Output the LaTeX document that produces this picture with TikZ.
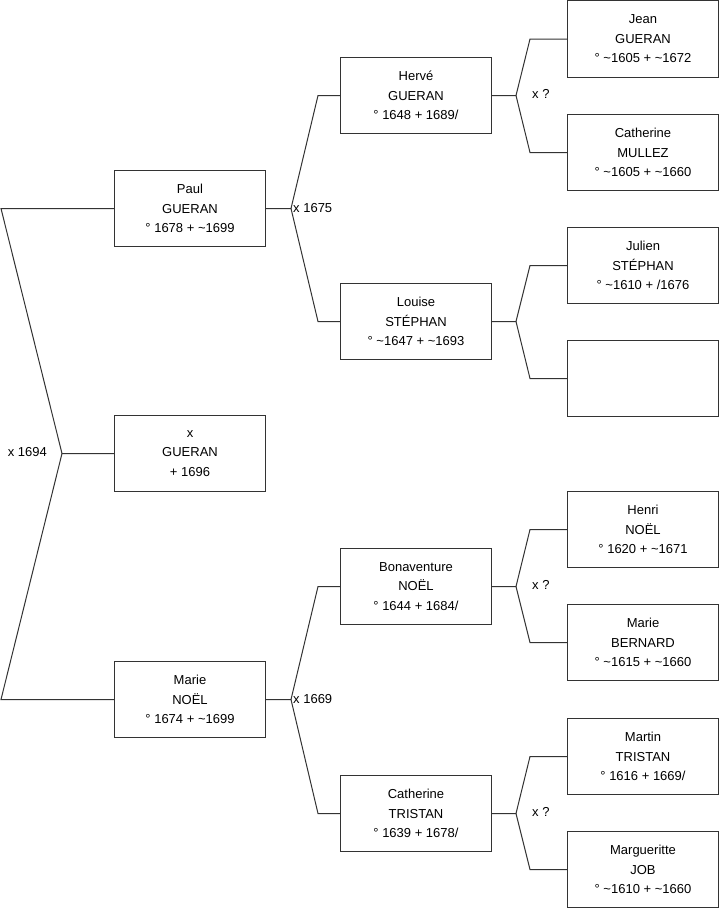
\documentclass[tikz,border=0pt]{standalone}
\usepackage{fontspec}
\setmainfont{Liberation Sans}
\begin{document}
\begin{tikzpicture}[x=1bp,y=-1bp,
  person/.style={draw=black!80, line width=1bp, minimum width=151bp, minimum height=76bp,
    align=center, inner sep=0pt, anchor=north west, font=\fontsize{13bp}{19.5bp}\selectfont},
  link/.style={draw=black!80, line width=1bp},
  lbl/.style={inner sep=0pt, font=\fontsize{13bp}{15bp}\selectfont}]
\useasboundingbox (0,0) rectangle (719,908);
% column 1
\node[person] (paul)  at (114,170) {Paul\\GUERAN\\° 1678 + \textasciitilde1699};
\node[person] (xg)    at (114,415) {x\\GUERAN\\+ 1696};
\node[person] (marie) at (114,661) {Marie\\NOËL\\° 1674 + \textasciitilde1699};
% column 2
\node[person] (herve)  at (340,57)  {Hervé\\GUERAN\\° 1648 + 1689/};
\node[person] (louise) at (340,283) {Louise\\STÉPHAN\\° \textasciitilde1647 + \textasciitilde1693};
\node[person] (bona)   at (340,548) {Bonaventure\\NOËL\\° 1644 + 1684/};
\node[person] (cathT)  at (340,775) {Catherine\\TRISTAN\\° 1639 + 1678/};
% column 3
\node[person] (jean)    at (567,0.5) {Jean\\GUERAN\\° \textasciitilde1605 + \textasciitilde1672};
\node[person] (cathM)   at (567,114) {Catherine\\MULLEZ\\° \textasciitilde1605 + \textasciitilde1660};
\node[person] (julien)  at (567,227) {Julien\\STÉPHAN\\° \textasciitilde1610 + /1676};
\node[person] (empty)   at (567,340) {};
\node[person] (henri)   at (567,491) {Henri\\NOËL\\° 1620 + \textasciitilde1671};
\node[person] (marieB)  at (567,604) {Marie\\BERNARD\\° \textasciitilde1615 + \textasciitilde1660};
\node[person] (martin)  at (567,718) {Martin\\TRISTAN\\° 1616 + 1669/};
\node[person] (margu)   at (567,831) {Margueritte\\JOB\\° \textasciitilde1610 + \textasciitilde1660};
% junctions
\coordinate (j0) at ([xshift=-52bp]xg.west);
\coordinate (j1) at ([xshift=25bp]paul.east);
\coordinate (j2) at ([xshift=25bp]marie.east);
\coordinate (jH) at ([xshift=24bp]herve.east);
\coordinate (jL) at ([xshift=24bp]louise.east);
\coordinate (jB) at ([xshift=24bp]bona.east);
\coordinate (jC) at ([xshift=24bp]cathT.east);
% connectors
\draw[link] (paul.west) -- ([xshift=-113bp]paul.west) -- (j0) -- (xg.west);
\draw[link] (j0) -- ([xshift=-113bp]marie.west) -- (marie.west);
\draw[link] (paul.east) -- (j1) -- ([xshift=-22bp]herve.west) -- (herve.west);
\draw[link] (j1) -- ([xshift=-22bp]louise.west) -- (louise.west);
\draw[link] (marie.east) -- (j2) -- ([xshift=-22bp]bona.west) -- (bona.west);
\draw[link] (j2) -- ([xshift=-22bp]cathT.west) -- (cathT.west);
\draw[link] (herve.east) -- (jH) -- ([xshift=-37bp]jean.west) -- (jean.west);
\draw[link] (jH) -- ([xshift=-37bp]cathM.west) -- (cathM.west);
\draw[link] (louise.east) -- (jL) -- ([xshift=-37bp]julien.west) -- (julien.west);
\draw[link] (jL) -- ([xshift=-37bp]empty.west) -- (empty.west);
\draw[link] (bona.east) -- (jB) -- ([xshift=-37bp]henri.west) -- (henri.west);
\draw[link] (jB) -- ([xshift=-37bp]marieB.west) -- (marieB.west);
\draw[link] (cathT.east) -- (jC) -- ([xshift=-37bp]martin.west) -- (martin.west);
\draw[link] (jC) -- ([xshift=-37bp]margu.west) -- (margu.west);
% marriage labels
\node[lbl, anchor=east] (m0) at ([xshift=-15bp,yshift=1bp]j0) {x 1694};
\node[lbl, anchor=west] (m1) at ([xshift=2bp]j1) {x 1675};
\node[lbl, anchor=west] (m2) at ([xshift=2bp]j2) {x 1669};
\node[lbl, anchor=west] (mH) at ([xshift=16bp,yshift=2bp]jH) {x ?};
\node[lbl, anchor=west] (mB) at ([xshift=16bp,yshift=2bp]jB) {x ?};
\node[lbl, anchor=west] (mC) at ([xshift=16bp,yshift=2bp]jC) {x ?};
\end{tikzpicture}
\end{document}
